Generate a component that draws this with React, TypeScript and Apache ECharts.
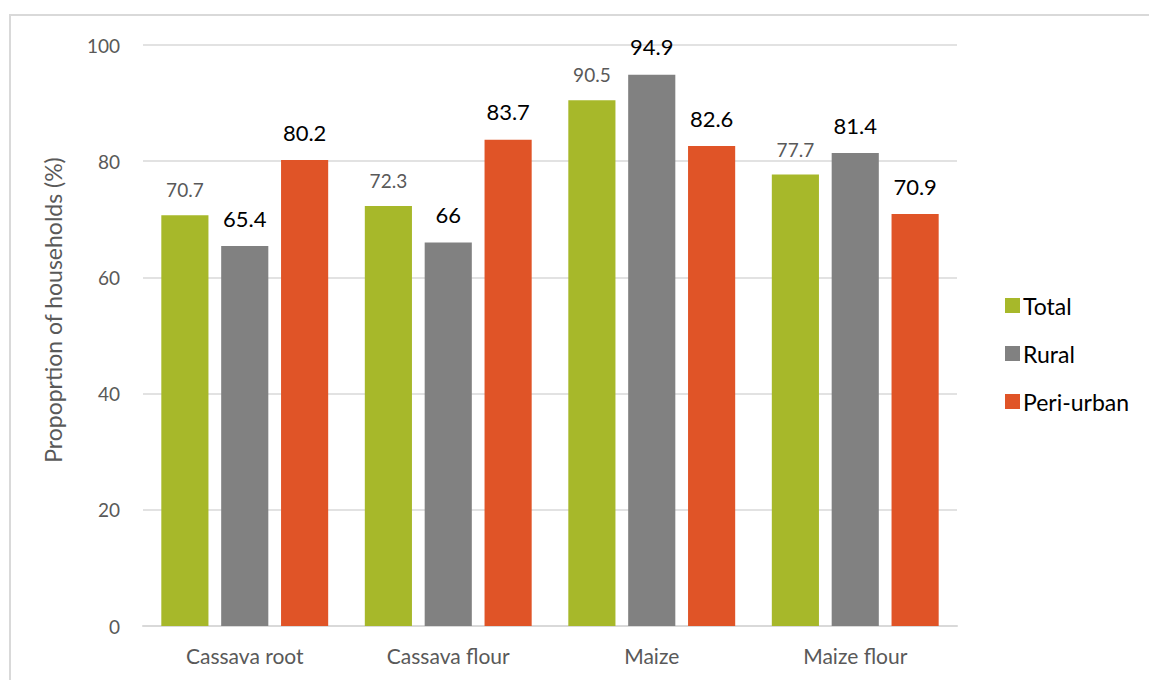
import React, { useEffect, useRef } from "react";
import * as echarts from "echarts";

const categories = ["Cassava root", "Cassava flour", "Maize", "Maize flour"];
const totalValues = [70.7, 72.3, 90.5, 77.7];
const ruralValues = [65.4, 66, 94.9, 81.4];
const periUrbanValues = [80.2, 83.7, 82.6, 70.9];
const seriesNames = ["Total", "Rural", "Peri-urban"];
const yTicks = { min: 0, max: 100, interval: 20 };
const yAxisTitle = "Propoprtion of households (%)";

const FONT = "Lato, 'Open Sans', sans-serif";
const GREY_TEXT = "#595959";

export default function App() {
  const ref = useRef<HTMLDivElement>(null);

  useEffect(() => {
    document.body.style.margin = "0";
    const chart = echarts.init(ref.current!, null, { renderer: "svg" });

    const bigLabel = {
      show: true,
      position: "top",
      distance: 17,
      fontSize: 22,
      color: "#000000",
      fontFamily: FONT,
    };
    const smallLabel = {
      show: true,
      position: "top",
      distance: 16,
      fontSize: 19,
      color: GREY_TEXT,
      fontFamily: FONT,
    };

    chart.setOption({
      animation: false,
      backgroundColor: "#ffffff",
      textStyle: { fontFamily: FONT },
      graphic: [
        {
          type: "rect",
          shape: { x: 10, y: 15, width: 1200, height: 700 },
          style: { fill: "none", stroke: "#d9d9d9", lineWidth: 2 },
          silent: true,
        },
        {
          // vertical axis title, sitting a little above the plot's middle
          type: "text",
          x: 53,
          y: 310,
          rotation: Math.PI / 2,
          silent: true,
          style: {
            text: yAxisTitle,
            fontSize: 23,
            fontFamily: FONT,
            fill: GREY_TEXT,
            align: "center",
            verticalAlign: "middle",
          },
        },
      ],
      grid: { left: 143, right: 192, top: 45, bottom: 54 },
      legend: {
        orient: "vertical",
        left: 1000,
        top: 289,
        itemWidth: 15,
        itemHeight: 15,
        itemGap: 25,
        icon: "rect",
        data: seriesNames,
        textStyle: { fontSize: 23, color: "#000000", fontFamily: FONT, padding: [0, 0, 0, -2] },
      },
      xAxis: {
        type: "category",
        data: categories,
        axisLine: { lineStyle: { color: "#d9d9d9", width: 2 } },
        axisTick: { show: false },
        axisLabel: { fontSize: 21, color: GREY_TEXT, margin: 19, fontFamily: FONT },
      },
      yAxis: {
        type: "value",
        min: yTicks.min,
        max: yTicks.max,
        interval: yTicks.interval,
        axisLine: { show: false },
        axisTick: { show: false },
        axisLabel: { fontSize: 19, color: GREY_TEXT, margin: 23, fontFamily: FONT },
        splitLine: { lineStyle: { color: "#d9d9d9", width: 1.5 } },
      },
      series: [
        {
          name: seriesNames[0],
          type: "bar",
          data: totalValues,
          itemStyle: { color: "#A7B82A" },
          label: smallLabel,
          barGap: "27%",
          barCategoryGap: "18%",
        },
        {
          name: seriesNames[1],
          type: "bar",
          data: ruralValues,
          itemStyle: { color: "#818181" },
          label: bigLabel,
          barGap: "27%",
          barCategoryGap: "18%",
        },
        {
          name: seriesNames[2],
          type: "bar",
          data: periUrbanValues,
          itemStyle: { color: "#E05427" },
          label: bigLabel,
          barGap: "27%",
          barCategoryGap: "18%",
        },
      ],
    });

    return () => chart.dispose();
  }, []);

  return (
    <div
      ref={ref}
      style={{ position: "fixed", left: 0, top: 0, width: 1149, height: 680 }}
    />
  );
}
